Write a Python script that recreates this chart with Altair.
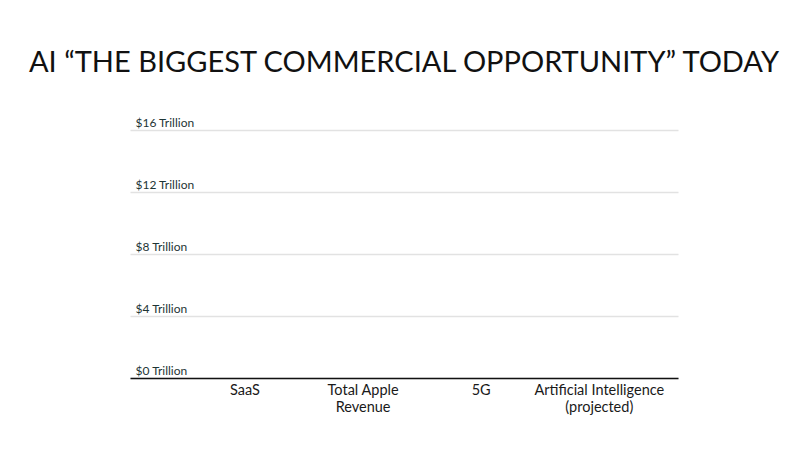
import altair as alt
import pandas as pd

categories = ["SaaS", "Total Apple\nRevenue", "5G", "Artificial Intelligence\n(projected)"]
values = [0, 0, 0, 0]  # no bars are visible in the reference
y_ticks = [0, 4, 8, 12, 16]

df = pd.DataFrame({"category": categories, "value": values})

font = "Lato"

bars = alt.Chart(df).mark_bar(color="#1f4f4f").encode(
    x=alt.X("category:N", sort=categories, title=None,
            scale=alt.Scale(paddingInner=0.0, paddingOuter=0.32, align=0.74),
            axis=alt.Axis(labelExpr="split(datum.label, '\\n')", labelAngle=0,
                          labelFontSize=14.5, labelColor="#1a1a1a", labelFont=font,
                          labelLineHeight=17, labelPadding=5, ticks=False,
                          domain=True, domainColor="#111111", domainWidth=1.5,
                          grid=False, labelBaseline="top")),
    y=alt.Y("value:Q", title=None,
            scale=alt.Scale(domain=[0, 16], nice=False),
            axis=alt.Axis(values=y_ticks, labelExpr="'$' + datum.value + ' Trillion'",
                          labelAlign="left", labelBaseline="bottom", labelPadding=-5,
                          labelOffset=-1, labelFontSize=12, labelColor="#1e3535",
                          labelFont=font, ticks=False, domain=False,
                          grid=True, gridColor="#e2e2e2", gridWidth=1.5)),
)

chart = bars.properties(
    width=548, height=248,
    autosize=alt.AutoSizeParams(type="none"),
    padding={"left": 122, "top": 122, "right": 114, "bottom": 64},
    background="white",
    title=alt.TitleParams(
        "AI \u201cTHE BIGGEST COMMERCIAL OPPORTUNITY\u201d TODAY",
        font=font, fontSize=29, fontWeight="normal", color="#111111",
        anchor="middle", offset=38,
    ),
).configure_view(stroke="transparent", strokeWidth=0)

chart.save("out.html", embed_options={"renderer": "svg", "actions": False})
